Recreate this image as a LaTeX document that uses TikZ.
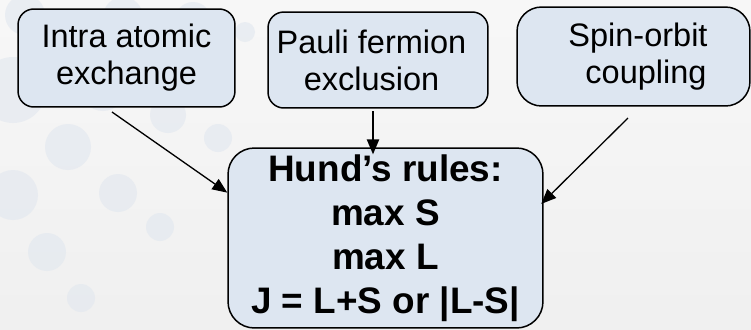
\documentclass[tikz,border=0pt]{standalone}
\usepackage{fontspec}
\setmainfont{Liberation Sans}
\usetikzlibrary{arrows.meta}
\definecolor{boxfill}{HTML}{DDE6F1}
\definecolor{dotcol}{HTML}{E1E7EF}
\tikzset{
  cause/.style={draw, line width=0.85pt, rounded corners=9pt, fill=boxfill,
    align=center, inner sep=0pt,
    font=\fontsize{18.5}{21}\selectfont},
  rules/.style={cause, rounded corners=15pt, font=\fontsize{21}{25}\selectfont\bfseries},
  arr/.style={-{Triangle[length=8.5pt,width=7pt]}, line width=0.75pt}
}
\begin{document}
\begin{tikzpicture}[x=0.02cm, y=-0.02cm]
    % background
    \useasboundingbox (0,0) rectangle (751,329);
    \shade[top color=white!97!black, bottom color=black!6] (0,0) rectangle (751,329);
    \foreach \cx/\cy/\r in {25/15/20, 123/17/20, 193/20/18, 245/32/10, 13/90/33,
        103/88/23, 168/115/18, 68/147/23, 218/138/14, 13/195/25, 118/193/19,
        160/227/14, 47/252/19, 81/298/14}
        \fill[dotcol, opacity=0.6] (\cx,\cy) circle[radius=\r*0.02cm];
    % boxes
    \node[cause, minimum width=4.34cm, minimum height=1.96cm] (intra) at (126.5,58)
        {Intra atomic\\exchange};
    \node[cause, minimum width=4.4cm, minimum height=1.92cm] (pauli) at (378,60)
        {Pauli fermion\hspace*{0.26cm}\\exclusion\hspace*{0.26cm}};
    \node[cause, rounded corners=14pt, minimum width=4.66cm, minimum height=1.98cm] (spin) at (633.5,56.5)
        {\hspace*{0.18cm}Spin-orbit\\\hspace*{0.5cm}coupling};
    \node[rules, minimum width=6.3cm, minimum height=3.6cm] (hund) at (385.5,238)
        {Hund’s rules:\\max S\\max L\\J = L+S or |L-S|};
    % arrows
    \coordinate (from1) at (112,112);
    \coordinate (from2) at (373,111);
    \coordinate (from3) at (628,118);
    \draw[arr] (from1) -- (hund.164);
    \draw[arr, shorten >=-4pt] (from2) -- (from2 |- hund.north);
    \draw[arr, shorten >=-2pt] (from3) -- (hund.13);
\end{tikzpicture}
\end{document}
